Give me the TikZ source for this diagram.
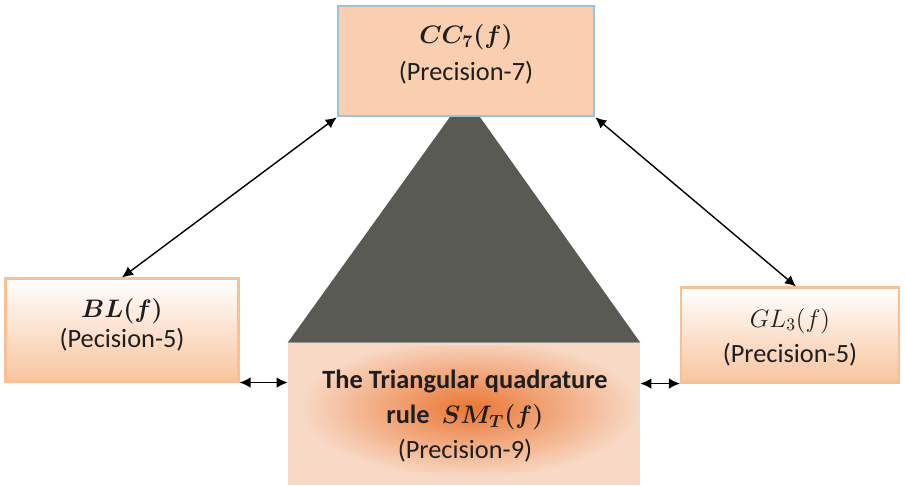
\documentclass[tikz,border=0pt]{standalone}
\usepackage{amsmath}
\usepackage{bm}
\usepackage{fontspec}
\setmainfont{Carlito}
\usepackage{tikz}
\usetikzlibrary{arrows.meta,calc,positioning,shadows}
\definecolor{pfirsich}{RGB}{249,207,175}
\definecolor{pfirsichdunkel}{RGB}{249,196,158}
\definecolor{pfirsichhell}{RGB}{248,217,197}
\definecolor{glut}{RGB}{234,118,52}
\definecolor{randblau}{RGB}{150,198,214}
\definecolor{randorange}{RGB}{249,192,150}
\definecolor{dunkelgrau}{RGB}{90,90,85}
\definecolor{schwarzgrau}{RGB}{30,30,30}
\newcommand{\formel}[1]{{\fontsize{14}{15}\selectfont$#1$}}

\begin{document}
\begin{tikzpicture}[
  x=0.02cm, y=-0.02cm,
  font=\fontsize{15}{18}\selectfont,
  pfeil/.style={{Latex[length=2.2mm,width=2.1mm]}-{Latex[length=2.2mm,width=2.1mm]}, line width=0.8pt},
  regel/.style={draw=randorange, line width=1.2pt, inner sep=0pt,
                top color=white, bottom color=pfirsichdunkel,
                drop shadow={opacity=0.25, shadow xshift=0.6pt, shadow yshift=-1pt}},
  schrift/.style={align=center, inner sep=0pt, text=schwarzgrau}
]
\useasboundingbox (0,0) rectangle (905,485);

% ---------- Triangular-Regel unten -------------------------------
\node[fill=pfirsichhell, minimum width=7.04cm, minimum height=2.84cm, inner sep=0pt]
  (smt) at (464,414) {};
\begin{scope}
  \clip (288,345) rectangle (640,485);
  \shade[inner color=glut, outer color=pfirsichhell] (470,408) ellipse (3.4cm and 1.4cm);
\end{scope}

% ---------- Dreieck ----------------------------------------------
\fill[dunkelgrau] (smt.north west) -- (465,96) -- (smt.north east) -- cycle;

\node[schrift, font=\fontsize{15}{20}\selectfont] (smtlabel) at (465,416)
  {\textbf{The Triangular quadrature}\\
   \textbf{rule}\ \ \formel{\bm{SM_T(f)}}\\
   (Precision-9)};

% ---------- CC_7 oben --------------------------------------------
\node[draw=randblau, line width=1.5pt, fill=pfirsich, inner sep=0pt,
      minimum width=5.12cm, minimum height=2.2cm] (cc) at (466,61) {};
\node[schrift, font=\fontsize{15}{21}\selectfont] (cclabel) at (466,54)
  {\formel{\bm{CC_7(f)}}\\ (Precision-7)};

% ---------- BL links ---------------------------------------------
\node[regel, minimum width=4.66cm, minimum height=2.06cm] (bl) at (122,330) {};
\node[schrift, font=\fontsize{15}{17}\selectfont] (bllabel) at (122,325)
  {\formel{\bm{BL(f)}}\\ (Pecision-5)};

% ---------- GL_3 rechts ------------------------------------------
\node[regel, minimum width=4.36cm, minimum height=1.9cm] (gl) at (790,335) {};
\node[schrift, font=\fontsize{15}{20}\selectfont] (gllabel) at (790,337)
  {\formel{GL_3(f)}\\ (Precision-5)};

% ---------- Pfeile -----------------------------------------------
\draw[pfeil] (cc.south west) -- (bl.north);
\draw[pfeil] (cc.south east) -- ($(gl.north)+(6,0)$);
\draw[pfeil] (bl.south east) -- (bl.south east -| smt.west);
\draw[pfeil] (smt.east |- gl.south west) -- (gl.south west);

\end{tikzpicture}
\end{document}
